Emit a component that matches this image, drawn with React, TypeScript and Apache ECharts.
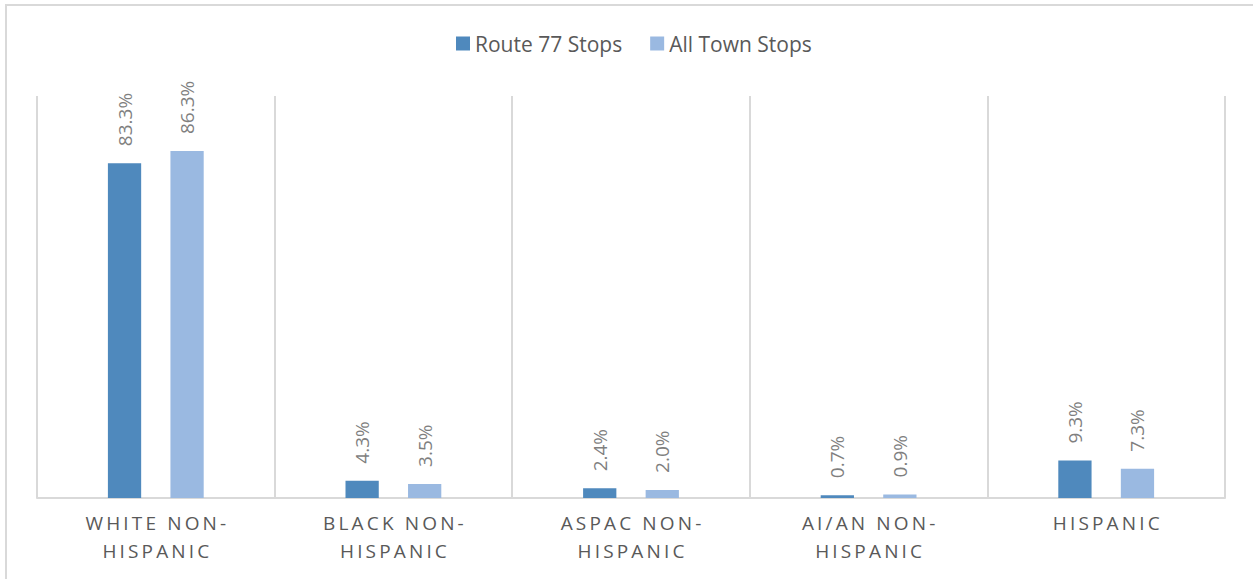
import React, { useEffect, useRef } from "react";
import * as echarts from "echarts";

const categories = [
  "White Non-Hispanic",
  "Black Non-Hispanic",
  "ASPAC Non-Hispanic",
  "AI/AN Non-Hispanic",
  "Hispanic",
];
const route77 = [83.3, 4.3, 2.4, 0.7, 9.3];
const allTown = [86.3, 3.5, 2.0, 0.9, 7.3];
const seriesNames = ["Route 77 Stops", "All Town Stops"];

const FONT = "'Open Sans', sans-serif";

function spaced(s: string) {
  return s
    .toUpperCase()
    .split("")
    .join("\u2009");
}

export default function App() {
  const ref = useRef<HTMLDivElement>(null);
  useEffect(() => {
    if (!ref.current) return;
    const chart = echarts.init(ref.current, null, { renderer: "svg" });
    const valueLabel = {
      show: true,
      position: "top",
      rotate: 90,
      align: "left",
      verticalAlign: "middle",
      distance: 17,
      color: "#7F7F7F",
      fontSize: 19,
      fontFamily: FONT,
      formatter: (p: any) => p.value.toFixed(1) + "%",
    };
    chart.setOption({
      animation: false,
      backgroundColor: "#fff",
      graphic: [
        {
          type: "rect",
          shape: { x: 6, y: 5, width: 1400, height: 700 },
          style: { fill: "none", stroke: "#D9D9D9", lineWidth: 2 },
          silent: true,
        },
      ],
      legend: {
        top: 28,
        left: 451,
        itemWidth: 14,
        itemHeight: 14,
        itemGap: 28,
        icon: "rect",
        textStyle: { color: "#595959", fontSize: 21, fontFamily: FONT },
        data: seriesNames,
      },
      grid: { left: 37, right: 28, top: 96, bottom: 81, containLabel: false },
      xAxis: {
        type: "category",
        data: categories,
        axisLine: { show: true, lineStyle: { color: "#D9D9D9", width: 2 } },
        axisTick: { show: false },
        splitLine: { show: true, lineStyle: { color: "#D9D9D9", width: 2 } },
        axisLabel: {
          color: "#595959",
          fontSize: 19,
          fontFamily: FONT,
          lineHeight: 28,
          margin: 11,
          interval: 0,
          formatter: (v: string) => {
            const idx = v.indexOf("Non-");
            if (idx >= 0) {
              return spaced(v.slice(0, idx + 4)) + "\n" + spaced(v.slice(idx + 4));
            }
            return spaced(v);
          },
        },
      },
      yAxis: {
        type: "value",
        min: 0,
        max: 100,
        show: false,
        splitLine: { show: false },
      },
      series: [
        {
          name: seriesNames[0],
          type: "bar",
          data: route77,
          barWidth: "14%",
          barGap: "88%",
          itemStyle: { color: "#4F89BD" },
          label: valueLabel,
        },
        {
          name: seriesNames[1],
          type: "bar",
          data: allTown,
          barWidth: "14%",
          barGap: "88%",
          itemStyle: { color: "#9AB9E1" },
          label: valueLabel,
        },
      ],
    });
    return () => chart.dispose();
  }, []);
  return (
    <div
      ref={ref}
      style={{ position: "fixed", left: 0, top: 0, width: 1253, height: 579, background: "#fff" }}
    />
  );
}
